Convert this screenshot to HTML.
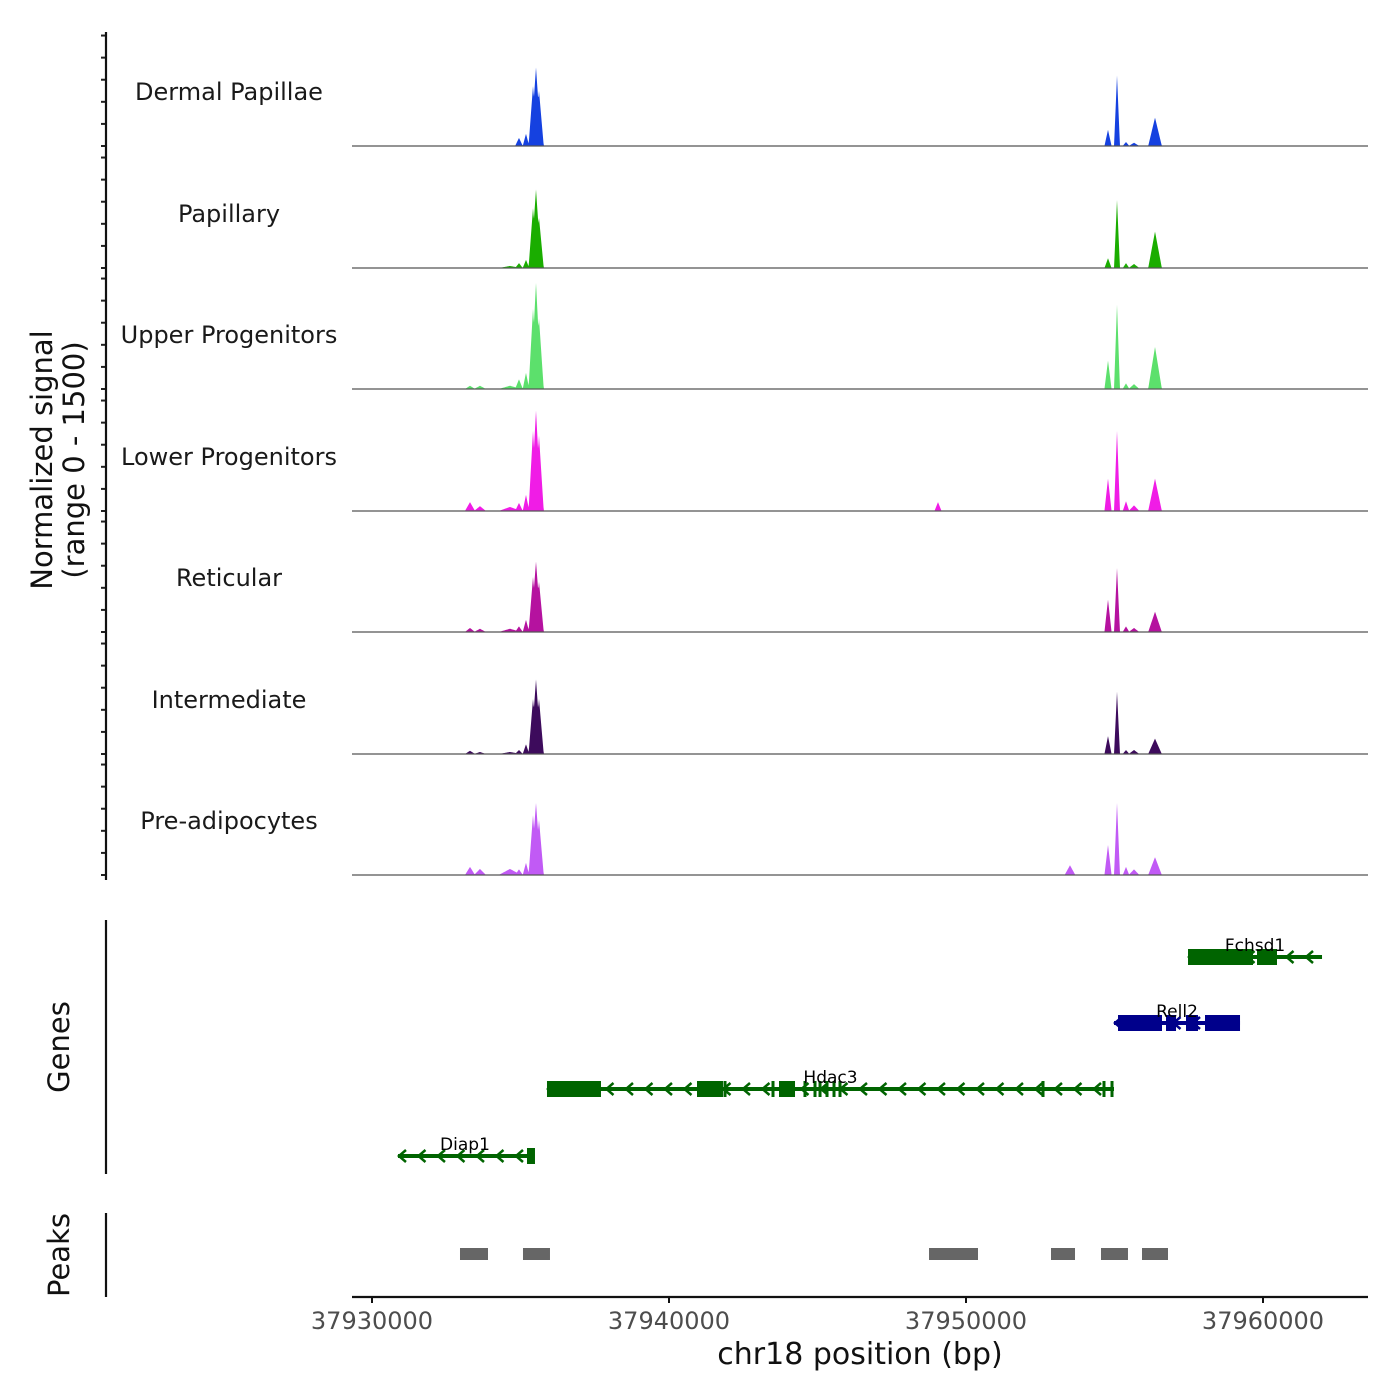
<!DOCTYPE html>
<html><head><meta charset="utf-8"><style>
body{margin:0;background:#fff}
svg{display:block;font-family:"DejaVu Sans","Liberation Sans",sans-serif}
</style></head><body>
<svg id="c" width="1400" height="1400" viewBox="0 0 1400 1400" xmlns="http://www.w3.org/2000/svg"></svg>
<script>
// ---- data ----
const trackNames = ["Dermal Papillae","Papillary","Upper Progenitors","Lower Progenitors","Reticular","Intermediate","Pre-adipocytes"];
const trackColors = ["#1541e0","#1aad00","#5ce06c","#f01ce6","#b5129f","#3d0b5c","#c15af5"];
const peakCenters = [37933300,37933636,37934949,37935185,37935421,37935522,37935623,37954781,37955084,37955387,37955657,37956364,37949057,37953501,37934646];
const peakHalfWidths = [170,200,130,110,150,180,160,120,100,110,180,230,120,180,380];
const signalDermal = [0,0,100,150,740,970,680,200,870,50,40,350,0,0,0];
const signalPapillary = [0,0,60,100,740,970,620,120,840,60,50,450,0,0,25];
const signalUpper = [40,40,120,200,990,1310,870,350,1040,70,60,520,0,0,40];
const signalLower = [110,60,100,200,990,1240,930,400,990,120,70,400,110,0,50];
const signalReticular = [50,40,70,150,680,870,620,400,790,70,50,250,0,0,40];
const signalIntermediate = [40,25,50,120,680,920,680,220,770,50,50,190,0,0,25];
const signalPre = [100,75,70,150,740,890,680,370,890,100,70,220,0,120,75];
const trackSignals = [signalDermal,signalPapillary,signalUpper,signalLower,signalReticular,signalIntermediate,signalPre];
const xTicks = [37930000,37940000,37950000,37960000];
const genes = [
 {name:"Fchsd1",strand:"-",color:"#006400",start:37957475,end:37961987,exons:[[37957475,37959663],[37959798,37960471]],ticks:[],row:0},
 {name:"Rell2",strand:"-",color:"#00008b",start:37954983,end:37959226,exons:[[37955118,37956599],[37956734,37957071],[37957407,37957811],[37958047,37959226]],ticks:[],row:1},
 {name:"Hdac3",strand:"-",color:"#006400",start:37935892,end:37954983,exons:[[37935892,37937710],[37940943,37941818],[37943704,37944243]],ticks:[37941886,37943502,37944579,37944916,37945085,37945320,37945556,37945758,37952593,37954646,37954916],row:2},
 {name:"Diap1",strand:"-",color:"#006400",start:37930875,end:37935387,exons:[[37935219,37935488]],ticks:[],row:3}
];
const peakStarts = [37932963,37935084,37948755,37952862,37954545,37955926];
const peakEnds = [37933906,37935993,37950404,37953670,37955454,37956801];

// ---- scales ----
const X0=352,X1=1368,BP0=37929327,BP1=37963535;
const xs=bp=>X0+(bp-BP0)/(BP1-BP0)*(X1-X0);
const bases=[146,268,389,511,632,754,875];
const TH=121.5;
const ys=(i,v)=>bases[i]-v/1500*TH;
const svg=document.getElementById('c');
const NS="http://www.w3.org/2000/svg";
function mk(tag,attrs,parent){const e=document.createElementNS(NS,tag);for(const k in attrs)e.setAttribute(k,attrs[k]);(parent||svg).appendChild(e);return e;}

// ---- signal tracks ----
trackNames.forEach((nm,i)=>{
  const g=mk('g',{});
  
  
  const vals=trackSignals[i];
  let d='M'+X0+','+bases[i];
  for(let x=X0;x<=X1;x+=0.5){
    const bp=BP0+(x-X0)/(X1-X0)*(BP1-BP0);
    let v=0;
    for(let k=0;k<peakCenters.length;k++){
      const t=1-Math.abs(bp-peakCenters[k])/peakHalfWidths[k];
      if(t>0)v=Math.max(v,vals[k]*t);
    }
    d+=' L'+x+','+ys(i,v).toFixed(2);
  }
  d+=' L'+X1+','+bases[i]+' Z';
  const a=mk('path',{d:d,fill:trackColors[i]},g);
  
  
  const l=mk('line',{x1:X0,x2:X1,y1:bases[i],y2:bases[i],stroke:'#555','stroke-width':1.2},g);
  
  
  const t=mk('text',{x:229,y:bases[i]-46,'text-anchor':'middle','font-size':24,fill:'#1a1a1a'},g);
  t.textContent=nm;
  
  
  for(let k=0;k<=5;k++){
    const yy=bases[i]-k*TH/5.5;
    const tk=mk('line',{x1:101,x2:106,y1:yy,y2:yy,stroke:'#222','stroke-width':2},g);
    
    
  }
});
const ax1=mk('line',{x1:106,x2:106,y1:32,y2:880,stroke:'#111','stroke-width':2.2});


const yt=mk('text',{transform:'translate(52,460) rotate(-90)','text-anchor':'middle','font-size':29,fill:'#111'});


yt.innerHTML='<tspan x="0" dy="0">Normalized signal</tspan><tspan x="0" dy="32">(range 0 - 1500)</tspan>';

// ---- genes ----
const rowY=[957,1023,1089,1156];
const ax2=mk('line',{x1:106,x2:106,y1:920,y2:1174,stroke:'#111','stroke-width':2.2});


const gt=mk('text',{transform:'translate(69,1047) rotate(-90)','text-anchor':'middle','font-size':29,fill:'#111'});
gt.textContent='Genes';


genes.forEach(gn=>{
  const y=rowY[gn.row];
  const g=mk('g',{});
  
  
  const a=xs(gn.start),b=xs(gn.end);
  mk('line',{x1:a,x2:b,y1:y,y2:y,stroke:gn.color,'stroke-width':4},g);
  const dir=gn.strand==='-'?-1:1;
  for(let x=a+4;x<b-2;x+=19.5){
    mk('path',{d:`M${x-dir*4},${y-6} L${x+dir*3},${y} L${x-dir*4},${y+6}`,fill:'none',stroke:gn.color,'stroke-width':2.5},g);
  }
  gn.exons.forEach(e=>{
    const r=mk('rect',{x:xs(e[0]),y:y-8,width:Math.max(3,xs(e[1])-xs(e[0])),height:16,fill:gn.color},g);
    
    
  });
  gn.ticks.forEach(t=>mk('rect',{x:xs(t)-1.5,y:y-8,width:3,height:16,fill:gn.color},g));
  const lb=mk('text',{x:(a+b)/2,y:y-6,'text-anchor':'middle','font-size':17,fill:'#000'},g);
  lb.textContent=gn.name;
  
  
});

// ---- peaks ----
const ax3=mk('line',{x1:106,x2:106,y1:1213,y2:1297,stroke:'#111','stroke-width':2.2});


const pt=mk('text',{transform:'translate(69,1255) rotate(-90)','text-anchor':'middle','font-size':29,fill:'#111'});
pt.textContent='Peaks';


peakStarts.forEach((s,i)=>{
  const r=mk('rect',{x:xs(s),y:1248,width:xs(peakEnds[i])-xs(s),height:12,fill:'#666'});
  
  
});

// ---- x axis ----
const xa=mk('line',{x1:X0,x2:X1,y1:1297,y2:1297,stroke:'#111','stroke-width':2.2});


xTicks.forEach(v=>{
  const x=xs(v);
  const tk=mk('line',{x1:x,x2:x,y1:1297,y2:1303,stroke:'#111','stroke-width':2});
  
  
  const t=mk('text',{x:x,y:1329,'text-anchor':'middle','font-size':24,fill:'#4d4d4d'});
  t.textContent=v;
  
  
});
const xt=mk('text',{x:860,y:1364,'text-anchor':'middle','font-size':30,fill:'#111'});
xt.textContent='chr18 position (bp)';


</script>
</body></html>
